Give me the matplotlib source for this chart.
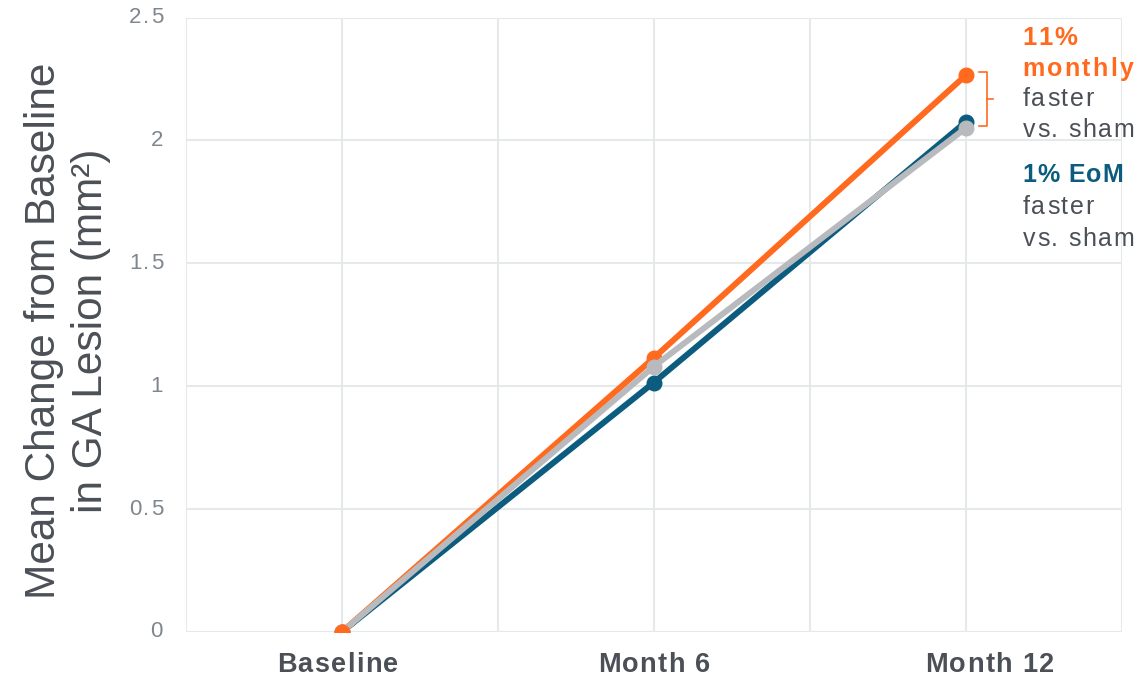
import matplotlib
matplotlib.use("Agg")
import matplotlib.pyplot as plt
import numpy as np
from matplotlib.font_manager import FontProperties, findfont, get_font
from matplotlib.transforms import ScaledTranslation, blended_transform_factory

plt.rcParams["font.family"] = ["Liberation Sans", "DejaVu Sans"]

# Mean change in GA lesion area (mm²) per visit
visits = ["Baseline", "Month 6", "Month 12"]
sham = [0.0, 1.08, 2.05]
monthly = [0.0, 1.115, 2.265]
eom = [0.0, 1.015, 2.075]
y_ticks = [0, 0.5, 1, 1.5, 2, 2.5]
y_tick_labels = ["0", "0.5", "1", "1.5", "2", "2.5"]

ORANGE = "#FF6A1F"
BLUE = "#0B5C7E"
GRAY = "#B8BABD"
TEXT = "#4B5057"
TICK = "#7E868E"
GRID = "#E7E8E9"


def char_advances(s, size, weight):
    prop = FontProperties(family="Liberation Sans", size=size, weight=weight)
    font = get_font(findfont(prop))
    font.set_size(size, 72)
    return [font.load_char(ord(c)).linearHoriAdvance / 65536 for c in s]


def spaced_text(ax, x, y, s, transform, size, weight="normal", color=TEXT,
                track=0.0, ha="left", va="baseline"):
    """Draw text with extra letter spacing (track, in points)."""
    adv = char_advances(s, size, weight)
    total = sum(adv) + track * (len(s) - 1)
    pos = {"left": 0.0, "center": -total / 2, "right": -total}[ha]
    for c, a in zip(s, adv):
        if c != " ":
            tr = transform + ScaledTranslation(pos / 72, 0, ax.figure.dpi_scale_trans)
            ax.text(x, y, c, transform=tr, fontsize=size, fontweight=weight,
                    color=color, ha="left", va=va, clip_on=False, zorder=7)
        pos += a + track


fig = plt.figure(figsize=(11.41, 6.78), dpi=100)
ax = fig.add_axes([0.163, 0.068, 0.820, 0.906])

x = np.arange(len(visits))
style = dict(lw=4.3, marker="o", ms=10.5, solid_capstyle="round")
ax.plot(x, eom, color=BLUE, zorder=3, **style)
ax.plot(x, monthly, color=ORANGE, zorder=4, **style)
ax.plot(x, sham, color=GRAY, zorder=5, **style)
# baseline point shared by all arms, shown in orange
ax.plot(x[0], monthly[0], color=ORANGE, marker="o", ms=10.5, zorder=6)

ax.set_xlim(-0.5, 2.5)
ax.set_ylim(0, 2.5)
ax.set_xticks(np.arange(-0.5, 2.51, 0.5))
ax.set_yticks(y_ticks)
ax.set_xticklabels([])
ax.set_yticklabels([])
ax.tick_params(axis="both", length=0)
ax.grid(True, color=GRID, lw=1.5)
for s in ax.spines.values():
    s.set_visible(False)

# category labels under the axis (the last one sits a little right)
xt = blended_transform_factory(ax.transData, ax.transAxes)
label_shift = [-0.015, 0.0, 0.077]
for xi, lab, dx in zip(x, visits, label_shift):
    spaced_text(ax, xi + dx, -0.066, lab, xt, 19.5, weight="bold", color=TEXT,
                track=1.0, ha="center")

# value labels left of the axis
yt = blended_transform_factory(ax.transAxes, ax.transData)
for yv, lab in zip(y_ticks, y_tick_labels):
    spaced_text(ax, -0.0246, yv, lab, yt, 16, color=TICK, track=1.0,
                ha="right", va="center")

ax.text(-0.127, 0.49, "Mean Change from Baseline\nin GA Lesion (mm²)",
        transform=ax.transAxes, rotation=90, fontsize=30.5, color=TEXT,
        ha="center", va="center", multialignment="center", linespacing=1.22)

# bracket between the monthly and EoM arms at Month 12
bx0, bx1, btip = 2.042, 2.067, 2.087
top, bot = monthly[2] + 0.015, eom[2] - 0.015
ax.plot([bx0, bx1, bx1, bx0], [top, top, bot, bot],
        color=ORANGE, lw=1.2, clip_on=False, zorder=2)
ymid = (top + bot) / 2
ax.plot([bx1, btip], [ymid, ymid], color=ORANGE, lw=1.2, clip_on=False, zorder=2)

notes = [
    ("11%", ORANGE, "bold", 18.5, 1.0, 2.390),
    ("monthly", ORANGE, "bold", 18, 1.6, 2.264),
    ("faster", TEXT, "normal", 18, 1.2, 2.142),
    ("vs. sham", TEXT, "normal", 18, 1.2, 2.015),
    ("1% EoM", BLUE, "bold", 18, 0.6, 1.832),
    ("faster", TEXT, "normal", 18, 1.2, 1.702),
    ("vs. sham", TEXT, "normal", 18, 1.2, 1.572),
]
for txt, col, wt, size, track, yy in notes:
    spaced_text(ax, 2.183, yy, txt, ax.transData, size, weight=wt, color=col,
                track=track)

fig.savefig("out.png", dpi=100)
